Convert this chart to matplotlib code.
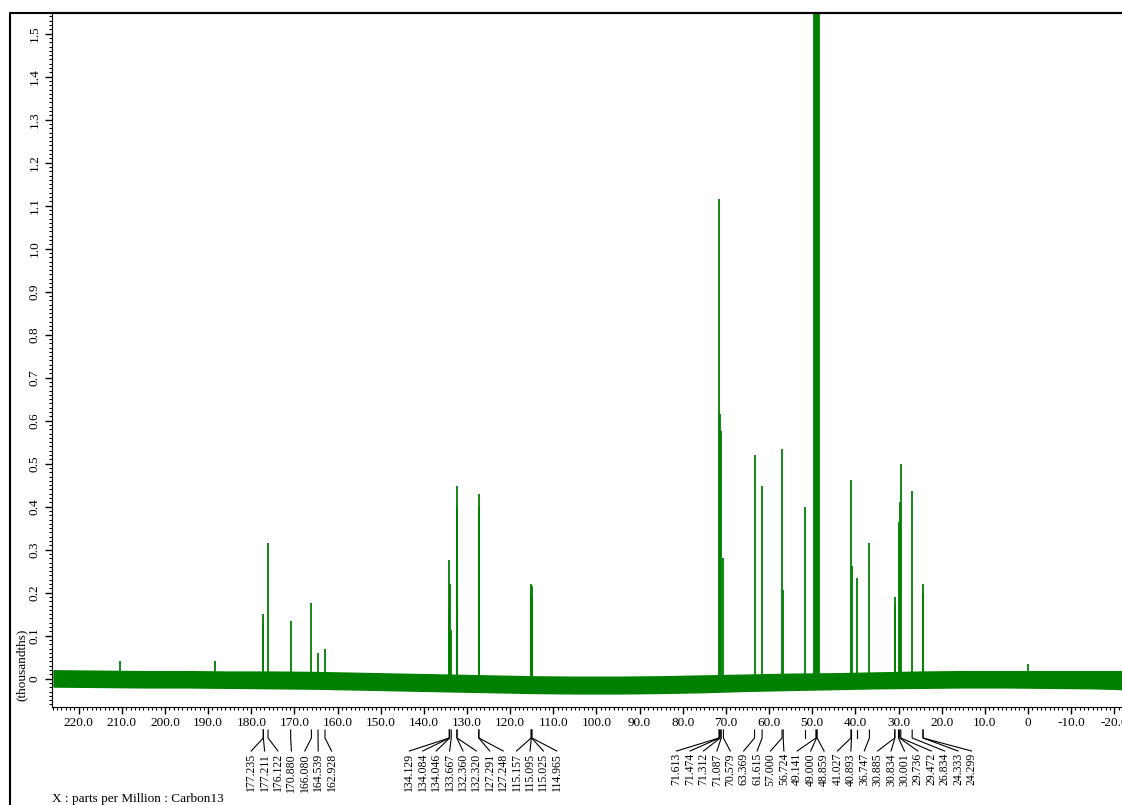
#13C NMR spectrum (JEOL style) with peak picking labels
import matplotlib
matplotlib.use('Agg')
import matplotlib.pyplot as plt
import numpy as np
from matplotlib.ticker import MultipleLocator, FuncFormatter
from matplotlib.transforms import blended_transform_factory
from matplotlib.lines import Line2D

plt.rcParams['font.family'] = ['Liberation Serif', 'DejaVu Serif']

# picked peaks: ppm and height (thousandths)
peak_ppm = [177.235, 177.211, 176.122, 170.880, 166.080, 164.539, 162.928,
            134.129, 134.084, 134.046, 133.667, 132.360, 132.320, 127.291, 127.248,
            115.157, 115.095, 115.025, 114.965,
            71.613, 71.474, 71.312, 71.087, 70.579, 63.369, 61.615, 57.000, 56.724,
            49.141, 49.000, 48.859, 41.027, 40.893, 36.747,
            30.885, 30.834, 30.001, 29.736, 29.472, 26.834, 24.333, 24.299]
peak_height = [0.15, 0.13, 0.315, 0.135, 0.177, 0.06, 0.07,
               0.16, 0.277, 0.22, 0.114, 0.447, 0.40, 0.43, 0.40,
               0.20, 0.22, 0.215, 0.19,
               1.115, 0.465, 0.615, 0.577, 0.28, 0.52, 0.448, 0.535, 0.205,
               9.0, 12.0, 9.0, 0.463, 0.263, 0.315,
               0.19, 0.17, 0.365, 0.41, 0.50, 0.436, 0.22, 0.20]

# other lines (solvent septet, unlabeled peaks, noise spikes)
extra_ppm = [49.56, 49.35, 48.65, 48.44, 51.7, 39.7, 210.4, 188.4, 0.0]
extra_height = [3.0, 6.0, 6.0, 3.0, 0.398, 0.235, 0.04, 0.04, 0.035]

# picked but unlabeled markers
marker_ppm = [51.7, 39.7]

# baseline noise envelope
env_ppm = [226, 215, 205, 195, 185, 175, 165, 155, 145, 135, 125, 115, 105,
           95, 85, 75, 65, 55, 45, 35, 25, 15, 5, -5, -15, -22]
env_upper = [0.021, 0.02, 0.019, 0.019, 0.018, 0.018, 0.017, 0.015, 0.013, 0.011,
             0.009, 0.007, 0.006, 0.006, 0.007, 0.009, 0.011, 0.013, 0.014, 0.016,
             0.018, 0.019, 0.019, 0.019, 0.019, 0.019]
env_lower = [-0.02, -0.021, -0.022, -0.022, -0.023, -0.024, -0.025, -0.027, -0.029,
             -0.031, -0.033, -0.035, -0.036, -0.036, -0.035, -0.033, -0.03, -0.028,
             -0.026, -0.024, -0.023, -0.022, -0.022, -0.023, -0.024, -0.026]

green = '#008000'
fig = plt.figure(figsize=(11.22, 8.05), dpi=100)
ax = fig.add_axes([52/1122, 1-707/805, 1-52/1122, (707-13)/805])
ax.set_xlim(226.2, -21.8)
ax.set_ylim(-0.066, 1.548)

ax.fill_between(env_ppm, env_lower, env_upper, color=green, lw=0)
ax.vlines(peak_ppm, 0, peak_height, color=green, lw=1.3)
ax.vlines(extra_ppm, 0, extra_height, color=green, lw=1.3)

ax.spines['right'].set_visible(False)
ax.spines['top'].set_linewidth(1.5)
ax.xaxis.set_major_locator(MultipleLocator(10))
ax.xaxis.set_minor_locator(MultipleLocator(1))
ax.yaxis.set_major_locator(MultipleLocator(0.1))
ax.yaxis.set_minor_locator(MultipleLocator(0.01))
fmt = FuncFormatter(lambda v, _: '0' if abs(v) < 1e-9 else f'{v:.1f}')
ax.xaxis.set_major_formatter(fmt)
ax.yaxis.set_major_formatter(fmt)
ax.tick_params(which='major', direction='out', length=5, width=1, labelsize=9.5, pad=2)
ax.tick_params(which='minor', direction='out', length=2.5, width=0.8)
ax.tick_params(axis='y', labelrotation=90, pad=3)
for lab in ax.get_yticklabels():
    lab.set_va('center')

fig.text(22/1122, 1-665/805, '(thousandths)', rotation=90, ha='center', va='center', fontsize=9.5)
fig.text(52/1122, 1-799/805, 'X : parts per Million : Carbon13', ha='left', va='center', fontsize=9.5)

# outer frame
fig.add_artist(Line2D([10/1122, 10/1122, 1], [0, 1-13/805, 1-13/805],
                      transform=fig.transFigure, color='black', lw=1.5))

# spread labels so they do not overlap (min spacing in ppm)
px_per_ppm = 1070 / (226.2 + 21.8)
d = 13.4 / px_per_ppm
order = np.argsort(-np.array(peak_ppm))
u = -np.array(peak_ppm)[order]
y = u - np.arange(len(u)) * d
blocks = []
for v in y:
    blocks.append([v, 1])
    while len(blocks) > 1 and blocks[-2][0]/blocks[-2][1] > blocks[-1][0]/blocks[-1][1]:
        s, c = blocks.pop()
        blocks[-1][0] += s
        blocks[-1][1] += c
fit = []
for s, c in blocks:
    fit += [s/c] * c
label_x = -(np.array(fit) + np.arange(len(u)) * d)

trans = blended_transform_factory(ax.transData, fig.transFigure)
y0, y1, y2, yt = 1-730/805, 1-738/805, 1-751/805, 1-753/805
for k, i in enumerate(order):
    p = peak_ppm[i]
    ax.plot([p, p, label_x[k]], [y0, y1, y2], transform=trans, color='black', lw=0.8, clip_on=False)
    ax.text(label_x[k], yt, f'{p:.3f}', rotation=90, ha='center', va='top',
            transform=trans, fontsize=8.5)
for p in marker_ppm:
    ax.plot([p, p], [y0, y1], transform=trans, color='black', lw=0.8, clip_on=False)

fig.savefig('out.png', dpi=100)
